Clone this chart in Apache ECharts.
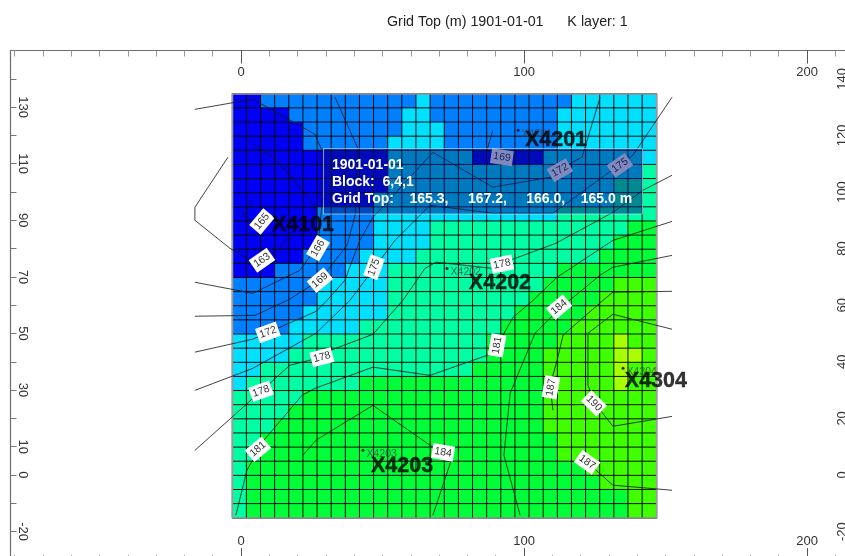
<!DOCTYPE html>
<html><head><meta charset="utf-8">
<style>html,body{margin:0;padding:0;background:#fff;overflow:hidden}#c{width:845px;height:556px}</style>
<script src="https://cdn.jsdelivr.net/npm/echarts@6/dist/echarts.min.js"></script>
</head><body><div id="c"></div>
<script>
const FONT = '"Liberation Sans", Arial, sans-serif';
const titleText = 'Grid Top (m) 1901-01-01      K layer: 1';
const xMajorTicks = [0, 100, 200];
const xMinorTicks = [-80,-70,-60,-50,-40,-30,-20,-10,10,20,30,40,50,60,70,80,90,110,120,130,140,150,160,170,180,190,210];
const yTicks = [-30,-20,-10,0,10,20,30,40,50,60,70,80,90,100,110,120,130,140,150];
const yLabelsLeft = [130,110,90,70,50,30,10,0,-20];
const yLabelsRight = [140,120,100,80,60,40,20,0,-20];
const infoLines = ['1901-01-01', 'Block:  6,4,1', 'Grid Top:    165.3,     167.2,     166.0,    165.0 m'];

// Grid top value per cell, top row first, 30 rows x 30 columns
const gridTop = [
[164,164,168,168,168,168,168,168,168,168,168,168,168,174,168,168,168,168,168,168,168,168,168,168,174,174,174,174,174,174],
[164,164,164,164,168,168,168,168,168,168,168,168,174,174,168,168,168,168,168,168,168,168,168,174,174,174,174,174,174,174],
[164,164,164,164,164,168,168,168,168,168,168,168,174,174,174,168,168,168,168,168,168,168,168,174,174,174,174,174,174,174],
[164,164,164,164,164,168,168,168,168,168,168,174,174,174,174,168,168,168,168,168,168,168,168,174,174,174,174,174,174,174],
[164,164,164,164,164,164,164,164,164,164,164,174,174,174,174,174,174,164,164,164,164,164,174,174,174,174,174,174,174,174],
[164,164,164,164,164,164,164,164,164,164,164,174,174,174,174,174,174,174,174,174,174,174,174,174,174,174,174,174,174,178],
[164,164,164,164,164,164,164,164,164,164,164,174,174,174,174,174,174,174,174,174,174,174,174,174,174,174,174,178,178,178],
[164,164,164,164,164,164,164,164,164,164,174,174,174,174,174,174,174,174,174,174,174,174,174,174,174,174,174,178,178,178],
[164,164,164,164,164,164,168,168,168,168,174,174,174,174,174,174,174,174,174,174,174,174,174,178,178,178,178,178,178,178],
[164,164,164,164,164,164,168,168,168,168,174,174,174,174,178,178,178,178,178,178,178,178,178,178,178,178,178,178,183,183],
[164,164,164,164,164,164,168,168,168,168,174,174,174,174,178,178,178,178,178,178,178,178,178,178,178,178,178,183,183,183],
[164,164,164,164,164,168,168,168,168,174,174,174,174,178,178,178,178,178,178,178,178,178,178,178,178,178,183,183,183,183],
[164,164,164,168,168,168,168,168,174,174,174,178,178,178,178,178,178,178,178,178,178,178,178,183,183,183,183,183,183,183],
[168,168,168,168,168,168,174,174,174,174,174,178,178,178,178,178,178,178,178,178,178,178,183,183,183,183,183,188,188,188],
[168,168,168,168,168,168,174,174,174,174,174,178,178,178,178,178,178,178,178,178,178,183,183,183,183,183,188,188,188,188],
[168,168,168,168,168,174,174,174,174,174,174,178,178,178,178,178,178,178,178,178,183,183,183,183,183,188,188,188,188,188],
[168,168,168,168,174,174,174,174,174,178,178,178,178,178,178,178,178,178,178,183,183,183,183,183,188,188,188,188,188,188],
[174,174,174,174,174,178,178,178,178,178,178,178,178,178,178,178,178,178,183,183,183,183,183,188,188,188,188,192,188,188],
[174,174,174,174,178,178,178,178,178,178,178,178,178,178,178,178,178,178,183,183,183,183,188,188,188,188,188,192,192,188],
[174,174,178,178,178,178,178,178,178,178,178,178,178,178,178,178,178,183,183,183,183,183,188,188,188,188,188,192,188,188],
[174,178,178,178,178,178,178,178,178,183,183,183,183,183,183,183,183,183,183,183,183,183,188,188,188,188,188,192,188,188],
[178,178,178,178,178,183,183,183,183,183,183,183,183,183,183,183,183,183,183,183,183,183,188,188,188,188,188,188,188,188],
[178,178,178,178,183,183,183,183,183,183,183,183,183,183,183,183,183,183,183,183,183,183,188,188,188,188,188,188,188,188],
[178,178,178,183,183,183,183,183,183,183,183,183,183,183,183,183,183,183,183,183,183,183,188,188,188,188,188,188,188,188],
[178,178,183,183,183,183,183,183,183,183,183,183,183,183,183,183,183,183,183,183,183,183,183,188,188,188,188,188,188,188],
[178,178,183,183,183,183,183,183,183,183,183,183,183,183,183,183,183,183,183,183,183,183,183,188,188,188,188,188,188,188],
[178,183,183,183,183,183,183,183,183,183,183,183,183,183,183,183,183,183,183,183,183,183,183,183,183,188,188,188,188,188],
[178,183,183,183,183,183,183,183,183,183,183,183,183,183,183,183,183,183,183,183,183,183,183,183,183,183,188,188,188,188],
[178,183,183,183,183,183,183,183,183,183,183,183,183,183,183,183,183,183,183,183,183,183,183,183,183,183,183,183,188,188],
[178,183,183,183,183,183,183,183,183,183,183,183,183,183,183,183,183,183,183,183,183,183,183,183,183,183,183,183,188,188]
];
const colorPieces = [
  {lt:166, color:'#0000f5'}, {gte:166, lt:172, color:'#0080ff'}, {gte:172, lt:176, color:'#00e1ff'},
  {gte:176, lt:180, color:'#00ffa5'}, {gte:180, lt:186, color:'#00ff38'}, {gte:186, lt:191, color:'#40ff00'},
  {gte:191, color:'#a8ff00'}
];

// Contour lines in model units
const c163 = [[4.6,116.9],[12.7,111.2],[26.1,95.3],[26.9,91.1],[21.6,89],[12,78.7],[4.2,75.2],[-3.9,80.1],[-16.3,90],[-16.3,94.6],[-4.6,112.3]];
const c165 = [[4.6,97],[0.7,91.8],[4.2,89.3],[7.4,89.6]];
const c166 = [[-16.3,129.2],[4.2,132.8],[26.1,120.4],[28.6,114.7],[28.6,95.3],[27.2,81.2],[20.8,72.3],[4.2,64.2],[-16.3,68.1]];
const c169 = [[-16.3,56.1],[4.9,56.4],[16.6,61.8],[27.9,68.9],[37.5,81.2],[40.3,91.8],[41.3,115.4],[33.2,133.5]];
const c169b = [[89,121.8],[86.9,114.7],[89.8,113],[92.2,112.3]];
const c172 = [[-16.3,43.4],[4.2,48],[26.5,57.8],[30.4,61.7],[36.7,68.8],[42,82.9],[46.6,91],[67.8,114],[89,101.7],[109.2,105.2],[116.3,110.1],[120.5,112.3],[126.9,133.5]];
const c175 = [[-16.3,29.9],[4.2,37.7],[26.5,50.1],[38.5,61.7],[47.3,73.4],[54.4,82.9],[66.8,95.3],[89,92.5],[110.2,92.5],[131.1,107.7],[138.5,113],[152.3,133.5]];
const c178 = [[-16.3,8.7],[-3.2,20.4],[4.2,27.1],[7.1,29.6],[17.3,38.8],[28.6,41.6],[31.8,44.1],[46.6,49.7],[57.2,61.7],[65,73],[68.9,75.2],[89,73],[95.1,75.9],[111.3,81.9],[131.4,92.8],[142,100.6],[152.3,105.9]];
const c181 = [[-1.8,-14.2],[2.1,1.7],[8.1,12.3],[21.6,28.2],[26.1,30.6],[46.6,38.1],[66.8,35.2],[89,43],[96.1,55.7],[103.2,61.7],[111.7,69.9],[131.4,82.9],[152.3,89.6]];
const c184a = [[21.9,7],[26.5,12.3],[46.6,24.6],[67.8,9.8],[74.9,7],[67.8,-14.2]];
const c184b = [[98.6,-14.2],[92.9,7],[95.1,28.9],[103.9,50.1],[112.7,58.9],[126.9,70.6],[131.4,73.4],[152.3,77.6]];
const c187a = [[110.2,22.9],[109.2,31.7],[111.7,40.5],[113.8,49.4],[127.9,61.7],[131.4,64.6],[152.3,64.9]];
const c187b = [[122.3,4.5],[131.4,-3.6],[152.3,-5.4]];
const c190 = [[152.3,20.7],[131.4,17.2],[125.1,25.3],[122.6,31.7],[122.6,50.1],[131.4,56.8],[152.3,51.5]];
const contours = [c163,c165,c166,c169,c169b,c172,c175,c178,c181,c184a,c184b,c187a,c187b,c190];

// [text, x, y, angle]
const contourLabels = [
 ['165',7.4,89.6,50],['163',7.4,75.9,35],['166',27.2,80.1,60],['169',27.9,68.8,40],['175',47,73.4,70],
 ['169',92.2,112.3,-8],['172',112.7,107.7,30],['175',133.9,109.4,35],['178',92.2,74.5,12],['172',9.5,50.4,20],
 ['178',28.6,41.6,15],['178',7.1,29.6,20],['181',6,9.1,40],['184',112.4,59.3,40],['181',90.5,45.8,80],
 ['187',109.5,31,80],['190',124.7,25.3,-45],['184',71.4,8,-10],['187',122.3,4.5,-35]
];
// [name, x, y] well head
const wells = [['X4201',97.9,121.8],['X4202',72.8,73],['X4203',43.1,8.7],['X4304',135,37.7]];
// [name, x, y] large well name
const wellNames = [['X4101',21.9,88.2],['X4201',111.3,118.3],['X4202',91.5,67.7],['X4203',56.9,3.1],['X4304',146.6,33.1]];

const cols = gridTop[0].map((_, i) => String(i + 1));
const rows = gridTop.map((_, i) => String(i + 1));
const cells = [];
gridTop.forEach((r, j) => r.forEach((v, i) => cells.push([i, j, v])));

const XMIN = -81.45, XMAX = 216.6, YMIN = -30.4, YMAX = 150;
const axisColor = '#6e6e6e';
function xAx(pos, ticks, len, labelled, margin) {
  return { type:'value', gridIndex:0, position:pos, min:XMIN, max:XMAX, splitLine:{show:false},
    axisLine:{show:labelled, onZero:false, lineStyle:{color:axisColor, width:1.2}},
    axisTick:{show:true, inside:true, length:len, customValues:ticks, lineStyle:{color:labelled?'#555':'#999', width:1}},
    axisLabel:{show:labelled, inside:true, margin:margin, customValues:ticks, color:'#333', fontFamily:FONT, fontSize:13, hideOverlap:false} };
}
function yAx(pos, labels, rot, margin) {
  return { type:'value', gridIndex:0, position:pos, min:YMIN, max:YMAX, splitLine:{show:false},
    axisLine:{show:true, onZero:false, lineStyle:{color:axisColor, width:1.2}},
    axisTick:{show:true, inside:true, length:6, customValues:yTicks, lineStyle:{color:'#777', width:1}},
    axisLabel:{show:true, inside:true, margin:margin, rotate:rot, customValues:labels, color:'#333', fontFamily:FONT, fontSize:13, hideOverlap:false} };
}
const contourSeries = contours.map(d => ({
  type:'line', xAxisIndex:0, yAxisIndex:0, data:d, z:3, symbol:'none', silent:true, clip:false,
  animation:false, lineStyle:{color:'rgba(20,20,20,0.8)', width:1}
}));

const option = {
  animation:false,
  backgroundColor:'#fff',
  title:{ text:titleText, left:382, top:10, textStyle:{fontFamily:FONT, fontSize:14.3, fontWeight:'normal', color:'#222'} },
  grid:[
    {left:10.5, top:50.5, width:843.5, height:510.5, containLabel:false, outerBoundsMode:'none'},
    {left:232.5, top:94, width:424, height:424, show:true, z:2.5, borderColor:'#9a9a9a', borderWidth:1.5, backgroundColor:'transparent', outerBoundsMode:'none'}
  ],
  xAxis:[
    xAx('top', xMajorTicks, 13, true, 15),
    xAx('bottom', xMajorTicks, 13, true, 13),
    xAx('top', xMinorTicks, 6, false, 15),
    xAx('bottom', xMinorTicks, 6, false, 13),
    {type:'category', gridIndex:1, data:cols, show:false}
  ],
  yAxis:[
    yAx('left', yLabelsLeft, -90, 6),
    yAx('right', yLabelsRight, 90, 5),
    {type:'category', gridIndex:1, data:rows, inverse:true, show:false}
  ],
  visualMap:{ show:false, type:'piecewise', seriesIndex:0, dimension:2, pieces:colorPieces },
  series:[
    { type:'heatmap', xAxisIndex:4, yAxisIndex:2, data:cells, z:2, silent:true, progressive:0,
      itemStyle:{borderColor:'rgba(0,0,0,0.9)', borderWidth:1}, label:{show:false}, emphasis:{disabled:true} },
    ...contourSeries,
    { type:'scatter', xAxisIndex:0, yAxisIndex:0, z:5, silent:true,
      data:contourLabels.map(l => ({ value:[l[1],l[2]], symbolRotate:l[3],
        label:{show:true, position:'inside', formatter:l[0], rotate:l[3], color:'#333', fontFamily:FONT, fontSize:10.5} })),
      symbol:'rect', symbolSize:[22,15], itemStyle:{color:'#fff', opacity:1} },
    { type:'scatter', xAxisIndex:0, yAxisIndex:0, z:6, silent:true,
      data:wells.map(w => ({ value:[w[1],w[2]],
        label:{show:true, position:'right', distance:2, offset:[0,4], formatter:w[0], color:'#444', fontFamily:FONT, fontSize:10.5} })),
      symbol:'circle', symbolSize:3, itemStyle:{color:'#000'} },
    { type:'scatter', xAxisIndex:0, yAxisIndex:0, z:7, silent:true,
      data:wellNames.map(w => ({ value:[w[1],w[2]],
        label:{show:true, position:'inside', formatter:w[0], color:'#000', fontFamily:FONT, fontSize:21.5, fontWeight:'bold', textBorderColor:'#000', textBorderWidth:0.4} })),
      symbol:'circle', symbolSize:1, itemStyle:{color:'rgba(0,0,0,0)'} }
  ],
  graphic:[
    { type:'rect', z:100, silent:true, shape:{x:323.5, y:148.5, width:319, height:65.5},
      style:{fill:'rgba(0,20,125,0.5)', stroke:'rgba(225,235,255,0.6)', lineWidth:1} },
    ...infoLines.map((t, i) => ({ type:'text', z:101, silent:true, x:332, y:158 + 17*i,
      style:{text:t, fill:'#fff', font:'bold 14px '+FONT} }))
  ]
};
echarts.init(document.getElementById('c'), null, {renderer:'canvas'}).setOption(option);
</script></body></html>
